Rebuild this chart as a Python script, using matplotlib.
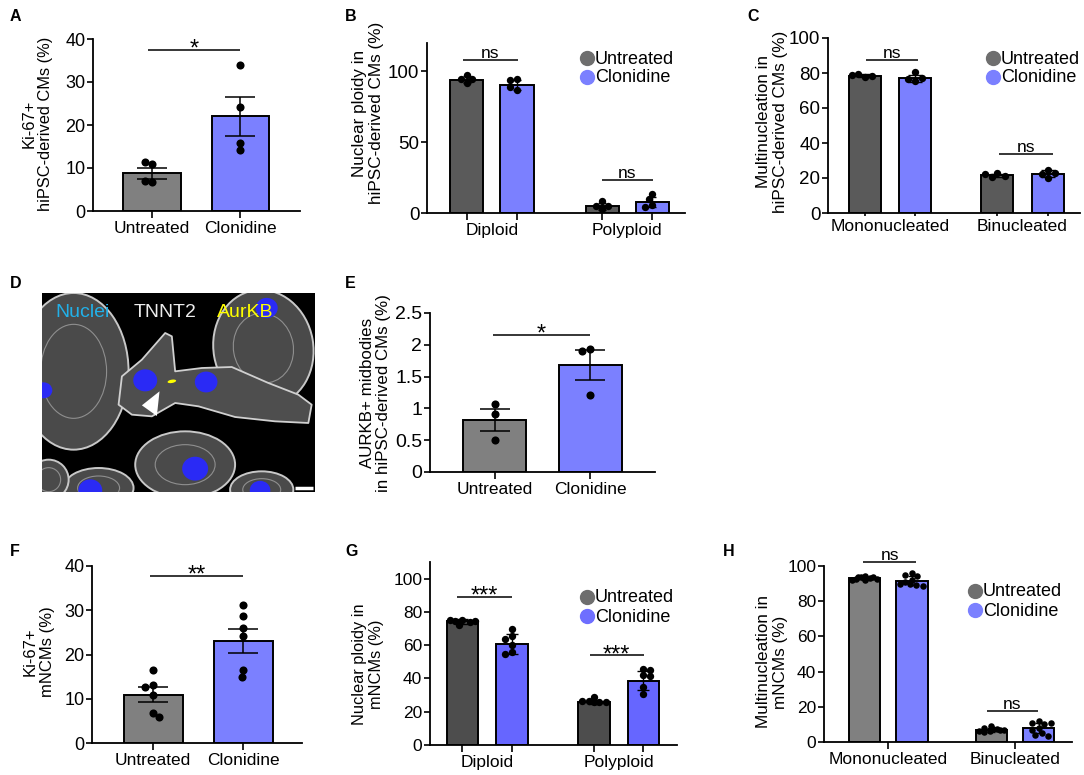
import numpy as np
import matplotlib
matplotlib.use("Agg")
import matplotlib.pyplot as plt
from matplotlib.lines import Line2D
from matplotlib.patches import Ellipse, Polygon

plt.rcParams['font.family'] = ['Liberation Sans', 'DejaVu Sans']

W, H = 1084, 775

# ---------------- data ----------------
conditions = ["Untreated", "Clonidine"]

# A: Ki-67+ hiPSC-derived CMs (%)
a_mean = [8.8, 22.0]
a_err = [1.25, 4.55]
a_untreated = [11.0, 11.3, 6.7, 6.9]
a_clonidine = [34.0, 24.1, 15.9, 14.2]

# B: nuclear ploidy hiPSC-CMs (%)
b_groups = ["Diploid", "Polyploid"]
b_untreated_mean = [94.1, 4.7]
b_clonidine_mean = [90.6, 8.0]
b_untreated_err = [2.3, 2.5]
b_clonidine_err = [3.5, 3.5]
b_untreated_pts = [[97.5, 92.0, 94.8, 94.6], [8.5, 2.5, 5.2, 5.0]]
b_clonidine_pts = [[94.8, 94.0, 87.0, 89.0], [13.5, 9.8, 6.0, 4.5]]

# C: multinucleation hiPSC-CMs (%)
c_groups = ["Mononucleated", "Binucleated"]
c_untreated_mean = [78.5, 21.5]
c_clonidine_mean = [77.1, 22.5]
c_untreated_err = [0.8, 0.8]
c_clonidine_err = [2.0, 2.0]
c_untreated_pts = [[78.0, 79.3, 78.2, 78.6], [22.6, 20.6, 21.0, 22.2]]
c_clonidine_pts = [[80.4, 75.6, 77.0, 76.6], [24.8, 20.0, 22.5, 23.0]]

# E: AURKB+ midbodies (%)
e_mean = [0.82, 1.68]
e_err = [0.17, 0.24]
e_untreated = [1.07, 0.91, 0.50]
e_clonidine = [1.93, 1.91, 1.21]

# F: Ki-67+ mNCMs (%)
f_mean = [10.9, 23.0]
f_err = [1.7, 2.65]
f_untreated = [16.5, 13.1, 12.7, 10.8, 6.8, 5.8]
f_clonidine = [31.2, 28.7, 25.9, 24.2, 16.5, 14.9]

# G: nuclear ploidy mNCMs (%)
g_groups = ["Diploid", "Polyploid"]
g_untreated_mean = [74.3, 26.1]
g_clonidine_mean = [60.8, 38.6]
g_untreated_err = [1.5, 1.2]
g_clonidine_err = [6.0, 5.6]
g_untreated_pts = [[75.0, 74.5, 74.0, 74.5, 75.0, 72.0], [29.0, 26.5, 26.0, 26.3, 25.8, 26.0]]
g_clonidine_pts = [[69.9, 65.3, 63.9, 60.2, 56.2, 54.8], [45.6, 45.2, 41.8, 41.2, 35.1, 30.5]]

# H: multinucleation mNCMs (%)
h_groups = ["Mononucleated", "Binucleated"]
h_untreated_mean = [93.0, 7.0]
h_clonidine_mean = [91.7, 7.9]
h_untreated_err = [1.0, 1.2]
h_clonidine_err = [2.5, 2.8]
h_untreated_pts = [[94.5, 93.8, 93.0, 92.5, 92.0, 93.5, 94.0, 91.8, 92.6],
                   [9.0, 8.0, 7.5, 7.0, 6.5, 6.0, 5.5, 7.2, 6.8]]
h_clonidine_pts = [[96.0, 95.0, 94.5, 92.0, 91.0, 89.0, 88.5, 90.0, 89.5],
                   [12.0, 11.0, 10.5, 10.8, 8.0, 7.0, 5.0, 4.0, 3.5]]

# D: sketch of the micrograph (image pixel coords, 820 x 597)
cell_ellipses = [(95, 235, 330, 470, 0), (665, 165, 300, 350, -10),
                 (430, 515, 300, 200, 0), (170, 585, 210, 120, 0),
                 (660, 590, 190, 110, 0), (20, 560, 120, 120, 0)]
middle_cell = [(230, 335), (240, 250), (300, 200), (370, 120), (390, 130),
               (400, 235), (480, 225), (570, 222), (680, 270), (770, 305),
               (810, 335), (800, 390), (700, 385), (580, 372), (470, 340),
               (400, 330), (330, 370), (270, 365)]
nuclei = [(310, 262, 36), (493, 267, 34), (675, 45, 33), (5, 292, 26),
          (460, 527, 39), (145, 592, 36), (655, 592, 31)]
midbody = (390, 265)
arrowhead = [(353, 295), (300, 337), (345, 369)]

GRAY = '#808080'
GRAY_DK = '#5a5a5a'
GRAY_G = '#4d4d4d'
BLUE = '#7b80ff'
BLUE_G = '#6666ff'

fig = plt.figure(figsize=(W / 100, H / 100), dpi=100)


def px_axes(left, right, top, bottom):
    return fig.add_axes([left / W, 1 - bottom / H, (right - left) / W, (bottom - top) / H])


def style(ax, ylim, yticks, ytick_fs, yticklabels=None, xtick_len=5.0):
    for s in ['top', 'right']:
        ax.spines[s].set_visible(False)
    for s in ['left', 'bottom']:
        ax.spines[s].set_linewidth(1.3)
    ax.set_ylim(*ylim)
    ax.set_yticks(yticks)
    if yticklabels is not None:
        ax.set_yticklabels(yticklabels)
    ax.tick_params(axis='y', length=4.5, width=1.2, pad=1, labelsize=ytick_fs)
    ax.tick_params(axis='x', which='major', length=xtick_len, width=1.2, pad=2, labelsize=12.5)
    ax.tick_params(axis='x', which='minor', length=0, pad=2 + xtick_len, labelsize=12.5)


def swarm(ax, xc, vals, diam, half_w):
    # spread overlapping dots sideways inside the bar, deterministic
    x0 = ax.transData.transform((xc, 0))[0]
    xr = ax.transData.transform((xc + half_w, 0))[0]
    max_off = max(xr - x0 - diam * 0.5, 0)
    cands = sorted(np.linspace(-max_off, max_off, 15), key=abs)
    placed, xs = [], []
    for v in vals:
        yp = ax.transData.transform((xc, v))[1]
        best, best_d = 0.0, -1
        for st in cands:
            d = min([np.hypot(x0 + st - px, yp - py) for px, py in placed] or [1e9])
            if d >= diam * 0.9:
                best = st
                break
            if d > best_d:
                best, best_d = st, d
        placed.append((x0 + best, yp))
        xs.append(ax.transData.inverted().transform((x0 + best, yp))[0])
    return xs


def dots(ax, xc, vals, diam, s, half_w):
    xs = swarm(ax, xc, vals, diam, half_w)
    ax.scatter(xs, vals, s=s, color='k', zorder=5, linewidths=0, clip_on=False)


def sig(ax, x1, x2, y, label, fs=12.5, dy=1.5):
    ax.plot([x1, x2], [y, y], color='k', lw=1.1, clip_on=False, solid_capstyle='butt')
    ax.annotate(label, ((x1 + x2) / 2, y), xytext=(0, dy), textcoords='offset points',
                ha='center', va='baseline', fontsize=fs, annotation_clip=False)


def two_bar(ax, means, errs, pts, colors, xlim, width, capsize, diam, s):
    x = np.arange(len(means))
    ax.set_xlim(*xlim)
    ax.bar(x, means, width, color=colors, edgecolor='k', linewidth=1.4, zorder=2)
    ax.errorbar(x, means, yerr=errs, fmt='none', ecolor='k', elinewidth=1.1,
                capsize=capsize, capthick=1.1, zorder=4)
    for xi, p in zip(x, pts):
        dots(ax, xi, p, diam, s, width * 0.25)
    ax.set_xticks(x, conditions)


def grouped(ax, groups, um, cm, ue, ce, up, cp, colors, xlim, off, width, capsize,
            diam, s, ticks_at_bars=True):
    g = np.arange(len(groups))
    ax.set_xlim(*xlim)
    ax.bar(g - off, um, width, color=colors[0], edgecolor='k', linewidth=1.4, zorder=2)
    ax.bar(g + off, cm, width, color=colors[1], edgecolor='k', linewidth=1.4, zorder=2)
    ax.errorbar(g - off, um, yerr=ue, fmt='none', ecolor='k', elinewidth=1.0,
                capsize=capsize, capthick=1.0, zorder=4)
    ax.errorbar(g + off, cm, yerr=ce, fmt='none', ecolor='k', elinewidth=1.0,
                capsize=capsize, capthick=1.0, zorder=4)
    for gi in g:
        dots(ax, gi - off, up[gi], diam, s, width * 0.5)
        dots(ax, gi + off, cp[gi], diam, s, width * 0.5)
    if ticks_at_bars:
        ax.set_xticks(np.concatenate([g - off, g + off]), [''] * (2 * len(g)))
        ax.set_xticks(g, groups, minor=True)
    else:
        ax.set_xticks(g, groups)


def ylabel(x, y, text, fs):
    fig.text(x / W, 1 - y / H, text, rotation=90, ha='center', va='center',
             fontsize=fs, multialignment='center', linespacing=1.15)


def legend(x, y, colors, fs=13, ms=10, dy=19):
    for i, (lab, c) in enumerate(zip(conditions, colors)):
        yy = y + i * dy
        fig.add_artist(Line2D([x / W], [1 - yy / H], marker='o', markersize=ms, color=c,
                              linestyle='none', transform=fig.transFigure))
        fig.text((x + 8) / W, 1 - (yy + 1) / H, lab, fontsize=fs, ha='left', va='center')


def panel_label(x, y, t):
    fig.text(x / W, 1 - y / H, t, fontsize=11.5, fontweight='bold', ha='left', va='top')


# ---------------- A ----------------
ax = px_axes(93, 300, 39, 211)
style(ax, (0, 40), np.arange(0, 41, 10), 13)
two_bar(ax, a_mean, a_err, [a_untreated, a_clonidine], [GRAY, BLUE],
        (-0.67, 1.68), 0.648, 10.5, 8, 34)
sig(ax, -0.04, 1.0, 37.4, '*', fs=17, dy=-4)
ylabel(37.5, 124, "Ki-67+\nhiPSC-derived CMs (%)", 11.8)

# ---------------- B ----------------
ax = px_axes(427, 685, 43, 213)
style(ax, (0, 120), [0, 50, 100], 13.5)
grouped(ax, b_groups, b_untreated_mean, b_clonidine_mean, b_untreated_err, b_clonidine_err,
        b_untreated_pts, b_clonidine_pts, [GRAY_DK, BLUE], (-0.478, 1.426), 0.186, 0.244,
        3, 7, 28)
sig(ax, -0.21, 0.19, 108, 'ns')
sig(ax, 0.81, 1.19, 23.5, 'ns')
ylabel(368, 113, "Nuclear ploidy in\nhiPSC-derived CMs (%)", 12.3)
legend(587, 58, ['#6e6e6e', BLUE])

# ---------------- C ----------------
ax = px_axes(828, 1080, 38, 213)
style(ax, (0, 100), np.arange(0, 101, 20), 13.5, xtick_len=2)
grouped(ax, c_groups, c_untreated_mean, c_clonidine_mean, c_untreated_err, c_clonidine_err,
        c_untreated_pts, c_clonidine_pts, [GRAY_DK, BLUE], (-0.468, 1.434), 0.189, 0.2415,
        5, 7, 28)
sig(ax, -0.18, 0.21, 87.6, 'ns')
sig(ax, 0.82, 1.23, 33.7, 'ns')
ylabel(772, 122, "Multinucleation in\nhiPSC-derived CMs (%)", 12.3)
legend(993, 58, ['#6e6e6e', BLUE])

# ---------------- D (micrograph sketch) ----------------
axd = px_axes(42, 315, 293, 492)
axd.set_facecolor('black')
axd.set_xlim(0, 820)
axd.set_ylim(597, 0)
axd.set_xticks([])
axd.set_yticks([])
for s in axd.spines.values():
    s.set_visible(False)
for cx, cy, w, h, ang in cell_ellipses:
    axd.add_patch(Ellipse((cx, cy), w, h, angle=ang, facecolor='#4a4a4a',
                          edgecolor='#c8c8c8', lw=1.4, zorder=1))
    axd.add_patch(Ellipse((cx, cy), w * 0.6, h * 0.6, angle=ang, facecolor='none',
                          edgecolor='#8f8f8f', lw=0.8, zorder=1))
axd.add_patch(Polygon(middle_cell, closed=True, facecolor='#4e4e4e', edgecolor='#d0d0d0',
                      lw=1.3, zorder=2, joinstyle='round'))
for cx, cy, r in nuclei:
    axd.add_patch(Ellipse((cx, cy), 2 * r, 2 * r * 0.92, facecolor='#2a2af5',
                          edgecolor='none', zorder=3))
axd.add_patch(Ellipse(midbody, 26, 10, angle=-10, facecolor='#ffff00', edgecolor='none', zorder=4))
axd.add_patch(Polygon(arrowhead, closed=True, facecolor='white', edgecolor='none', zorder=4))
axd.plot([760, 815], [586, 586], color='white', lw=2.5, zorder=5, solid_capstyle='butt')
axd.text(40, 57, "Nuclei", color='#22b0e8', fontsize=14, va='center', ha='left', zorder=6)
axd.text(275, 57, "TNNT2", color='#ececec', fontsize=14, va='center', ha='left', zorder=6)
axd.text(525, 57, "AurKB", color='#ffff00', fontsize=14, va='center', ha='left', zorder=6)

# ---------------- E ----------------
ax = px_axes(430, 655, 313, 472)
style(ax, (0, 2.5), np.arange(0, 2.51, 0.5), 14, ['0', '0.5', '1', '1.5', '2', '2.5'])
two_bar(ax, e_mean, e_err, [e_untreated, e_clonidine], [GRAY, BLUE],
        (-0.672, 1.672), 0.656, 11, 8, 34)
sig(ax, -0.02, 0.99, 2.15, '*', fs=17, dy=-4)
ylabel(375.5, 393, "AURKB+ midbodies\nin hiPSC-derived CMs (%)", 12.2)

# ---------------- F ----------------
ax = px_axes(92, 302, 566, 743)
style(ax, (0, 40), np.arange(0, 41, 10), 13)
two_bar(ax, f_mean, f_err, [f_untreated, f_clonidine], [GRAY, BLUE],
        (-0.678, 1.655), 0.656, 11, 8, 34)
sig(ax, -0.03, 1.0, 37.7, '**', fs=17, dy=-4)
ylabel(39, 652, "Ki-67+\nmNCMs (%)", 12)

# ---------------- G ----------------
ax = px_axes(430, 677, 562, 745)
style(ax, (0, 110), np.arange(0, 101, 20), 12.5)
grouped(ax, g_groups, g_untreated_mean, g_clonidine_mean, g_untreated_err, g_clonidine_err,
        g_untreated_pts, g_clonidine_pts, [GRAY_G, BLUE_G], (-0.435, 1.443), 0.188, 0.24,
        4.5, 7, 28)
sig(ax, -0.23, 0.19, 89, '***', fs=17, dy=-4)
sig(ax, 0.78, 1.19, 53.8, '***', fs=17, dy=-4)
ylabel(368, 664, "Nuclear ploidy in\nmNCMs (%)", 11.8)
legend(587, 597, ['#6e6e6e', '#6e6eff'])

# ---------------- H ----------------
ax = px_axes(824, 1072, 566, 742)
style(ax, (0, 100), np.arange(0, 101, 20), 12.5)
grouped(ax, h_groups, h_untreated_mean, h_clonidine_mean, h_untreated_err, h_clonidine_err,
        h_untreated_pts, h_clonidine_pts, [GRAY, BLUE], (-0.507, 1.449), 0.187, 0.245,
        3, 6.5, 22, ticks_at_bars=False)
sig(ax, -0.2, 0.22, 102.5, 'ns')
sig(ax, 0.78, 1.18, 17.8, 'ns')
ylabel(772, 662, "Multinucleation in\nmNCMs (%)", 12.3)
legend(975, 591, ['#6e6e6e', BLUE])

# panel letters
for x, y, t in [(10, 9, 'A'), (345, 9, 'B'), (747, 9, 'C'), (10, 276, 'D'), (345, 276, 'E'),
                (10, 544, 'F'), (345, 544, 'G'), (723, 544, 'H')]:
    panel_label(x, y, t)

fig.savefig('out.png', dpi=100, facecolor='white')
